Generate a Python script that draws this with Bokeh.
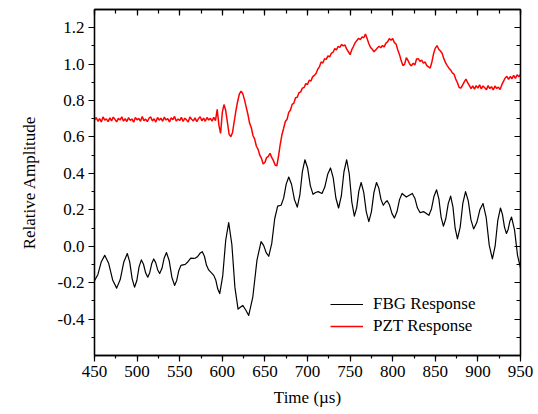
from bokeh.plotting import figure
from bokeh.models import (SingleIntervalTicker, PrintfTickFormatter, LinearAxis, Legend,
                          CustomLabelingPolicy)
from bokeh.embed import file_html
from bokeh.resources import INLINE

# ---------------- data ----------------
fbg_time = [450, 454, 458, 462, 466.7, 471.3, 476, 480.2, 484.3, 488.5, 491.3, 494.2, 497, 499.7, 502.3,
            505, 507.5, 510, 512.5, 514.8, 517.2, 519.5, 521.8, 524.2, 526.5, 529.2, 531.8, 534.5, 537.7,
            540.8, 544, 546.5, 549, 551.5, 554, 556.5, 559.7, 563, 565.8, 568.5, 571.2, 573.8, 576.5, 579,
            581.5, 584, 587, 590, 592.3, 594.7, 597, 600.5, 604, 607.5, 611.2, 614.8, 618.5, 621.2, 624,
            627.5, 631, 635.8, 640.7, 645.5, 648.5, 651.5, 654.5, 658, 661.5, 665, 669, 672, 675, 678,
            681.3, 684.7, 688, 691, 694, 697, 700.2, 703.3, 706.5, 709.5, 712.5, 717, 720.3, 723.7, 727,
            730.2, 733.3, 736.5, 739.7, 742.8, 746, 749, 752, 755, 757.7, 760.3, 763, 766, 769, 772, 775,
            778, 781, 783.7, 786.3, 789, 791.2, 793.5, 796.3, 799.2, 802, 805, 808, 811, 813.5, 816, 819.5,
            823, 826, 829, 832, 834.2, 836.5, 839.5, 842.5, 845.5, 848.5, 851.5, 854.2, 856.8, 859.5, 862.3,
            865.2, 868, 870.7, 873.3, 876, 879.2, 882.3, 885.5, 888.7, 891.8, 895, 898.7, 902.3, 906, 909.7,
            913.3, 917, 920.2, 923.3, 926.5, 928.8, 931.2, 933.5, 935.5, 937.5, 939.5, 943, 946.5, 950]
fbg_value = [-0.19, -0.155, -0.085, -0.05, -0.095, -0.185, -0.23, -0.183, -0.088, -0.04, -0.086, -0.179,
             -0.225, -0.188, -0.113, -0.075, -0.099, -0.146, -0.17, -0.145, -0.095, -0.07, -0.09, -0.13,
             -0.15, -0.121, -0.064, -0.035, -0.08, -0.17, -0.215, -0.188, -0.133, -0.105, -0.102, -0.10,
             -0.085, -0.065, -0.067, -0.065, -0.056, -0.039, -0.03, -0.055, -0.105, -0.13, -0.145, -0.16,
             -0.185, -0.235, -0.26, -0.163, 0.033, 0.13, 0.011, -0.226, -0.345, -0.335, -0.325, -0.35,
             -0.38, -0.279, -0.076, 0.025, 0.005, -0.035, -0.055, 0.014, 0.151, 0.22, 0.225, 0.264, 0.341,
             0.38, 0.339, 0.256, 0.215, 0.28, 0.41, 0.475, 0.428, 0.333, 0.285, 0.295, 0.30, 0.29, 0.325,
             0.395, 0.43, 0.375, 0.265, 0.21, 0.276, 0.409, 0.475, 0.398, 0.243, 0.165, 0.211, 0.304, 0.35,
             0.296, 0.189, 0.135, 0.189, 0.296, 0.35, 0.319, 0.256, 0.225, 0.24, 0.25, 0.226, 0.179, 0.155,
             0.189, 0.256, 0.29, 0.28, 0.27, 0.28, 0.29, 0.264, 0.211, 0.185, 0.187, 0.19, 0.18, 0.17,
             0.205, 0.275, 0.31, 0.26, 0.16, 0.11, 0.151, 0.234, 0.275, 0.216, 0.099, 0.04, 0.105, 0.235,
             0.30, 0.249, 0.146, 0.095, 0.13, 0.2, 0.235, 0.159, 0.006, -0.07, 0.0, 0.14, 0.21, 0.175,
             0.105, 0.07, 0.092, 0.137, 0.16, 0.09, -0.05, -0.12]

pzt_time = list(range(450, 951, 2))
pzt_value = [
    0.692, 0.707, 0.686, 0.701, 0.682, 0.710, 0.692, 0.699, 0.684, 0.705,
    0.688, 0.709, 0.697, 0.683, 0.702, 0.693, 0.711, 0.687, 0.700, 0.685,
    0.706, 0.691, 0.699, 0.681, 0.707, 0.694, 0.702, 0.686, 0.712, 0.690,
    0.698, 0.684, 0.703, 0.710, 0.688, 0.700, 0.682, 0.707, 0.692, 0.703,
    0.686, 0.709, 0.693, 0.701, 0.683, 0.705, 0.695, 0.713, 0.687, 0.699,
    0.690, 0.708, 0.685, 0.703, 0.694, 0.682, 0.710, 0.697, 0.688, 0.705,
    0.684, 0.700, 0.711, 0.689, 0.704, 0.686, 0.707, 0.693, 0.702, 0.687,
    0.708, 0.690, 0.752, 0.665, 0.620, 0.735, 0.778, 0.745, 0.680, 0.615,
    0.602, 0.625, 0.685, 0.745, 0.795, 0.835, 0.852, 0.838, 0.805, 0.765,
    0.725, 0.676, 0.652, 0.608, 0.588, 0.549, 0.532, 0.500, 0.482, 0.452,
    0.460, 0.487, 0.494, 0.510, 0.488, 0.470, 0.446, 0.442, 0.495, 0.560,
    0.612, 0.648, 0.685, 0.697, 0.735, 0.748, 0.779, 0.786, 0.815, 0.818,
    0.843, 0.848, 0.868, 0.872, 0.893, 0.888, 0.912, 0.907, 0.930, 0.938,
    0.948, 0.972, 0.985, 1.012, 1.006, 1.030, 1.026, 1.045, 1.040, 1.060,
    1.065, 1.085, 1.078, 1.098, 1.092, 1.108, 1.100, 1.105, 1.082, 1.068,
    1.052, 1.080, 1.098, 1.118, 1.130, 1.142, 1.135, 1.150, 1.145, 1.165,
    1.140, 1.112, 1.092, 1.082, 1.068, 1.078, 1.088, 1.098, 1.090, 1.102,
    1.095, 1.115, 1.122, 1.140, 1.132, 1.140, 1.118, 1.110, 1.078, 1.052,
    1.018, 0.992, 1.000, 1.035, 1.020, 1.000, 0.990, 1.005, 0.995, 1.028,
    1.030, 1.015, 1.022, 1.005, 1.012, 0.992, 0.985, 0.978, 1.012, 1.058,
    1.088, 1.102, 1.082, 1.072, 1.060, 1.030, 1.008, 0.992, 0.978, 0.968,
    0.952, 0.945, 0.918, 0.898, 0.872, 0.868, 0.885, 0.902, 0.918, 0.898,
    0.882, 0.866, 0.880, 0.863, 0.882, 0.868, 0.886, 0.864, 0.880, 0.870,
    0.860, 0.882, 0.866, 0.876, 0.858, 0.880, 0.866, 0.874, 0.861, 0.886,
    0.905, 0.924, 0.933, 0.916, 0.932, 0.920, 0.938, 0.922, 0.942, 0.930,
    0.945]

series_labels = ["FBG Response", "PZT Response"]
x_label = "Time (\u00b5s)"
y_label = "Relative Amplitude"

FONT = "Liberation Serif"

p = figure(width=538, height=414, x_range=(450, 950), y_range=(-0.6, 1.3),
           output_backend="svg", toolbar_location=None,
           min_border_left=94, min_border_right=18, min_border_top=9, min_border_bottom=59,
           x_axis_label=x_label, y_axis_label=y_label)
p.grid.visible = False
p.outline_line_color = "black"
p.outline_line_width = 1.3
p.background_fill_color = "white"
p.border_fill_color = "white"

r1 = p.line(fbg_time, fbg_value, line_color="black", line_width=1.2, line_join="round")
r2 = p.line(pzt_time, pzt_value, line_color="#ff0000", line_width=1.5)

no_labels = CustomLabelingPolicy(code="""
for (const i of indices) {
  if (i < 0) { yield i }
}
""")


def style_axis(ax, inward=False, labels=True):
    ax.axis_line_color = "black"
    ax.axis_line_width = 1.3
    ax.major_tick_line_color = "black"
    ax.minor_tick_line_color = "black"
    ax.major_tick_line_width = 1.2
    ax.minor_tick_line_width = 1.2
    if inward:
        ax.major_tick_in = 6
        ax.major_tick_out = 0
        ax.minor_tick_in = 4
        ax.minor_tick_out = 0
    else:
        ax.major_tick_in = 0
        ax.major_tick_out = 6
        ax.minor_tick_in = 0
        ax.minor_tick_out = 3
    ax.major_label_text_font = FONT
    ax.major_label_text_color = "black"
    ax.major_label_text_font_size = "17px"
    ax.axis_label_text_font = FONT
    ax.axis_label_text_font_style = "normal"
    ax.axis_label_text_font_size = "17px"
    ax.axis_label_text_color = "black"
    if not labels:
        ax.major_label_policy = no_labels
        ax.major_label_text_font_size = "0px"
        ax.major_label_standoff = 0


p.xaxis.ticker = SingleIntervalTicker(interval=50, num_minor_ticks=2)
p.yaxis.ticker = SingleIntervalTicker(interval=0.2, num_minor_ticks=2)
p.yaxis.formatter = PrintfTickFormatter(format="%.1f")
style_axis(p.xaxis[0])
style_axis(p.yaxis[0])
p.xaxis.major_label_standoff = 4
p.xaxis.axis_label_standoff = 8
p.yaxis.major_label_standoff = 4
p.yaxis.axis_label_standoff = 16

top = LinearAxis(ticker=SingleIntervalTicker(interval=50, num_minor_ticks=2))
style_axis(top, inward=True, labels=False)
p.add_layout(top, "above")
right = LinearAxis(ticker=SingleIntervalTicker(interval=0.2, num_minor_ticks=2))
style_axis(right, inward=True, labels=False)
p.add_layout(right, "right")

legend = Legend(items=[(series_labels[0], [r1]), (series_labels[1], [r2])],
                location=(236, 19), orientation="vertical")
legend.border_line_color = None
legend.background_fill_alpha = 0
legend.label_text_font = FONT
legend.label_text_font_size = "17px"
legend.label_text_color = "black"
legend.padding = 0
legend.margin = 0
legend.spacing = 2
legend.label_height = 20
legend.glyph_height = 20
legend.glyph_width = 33
legend.label_standoff = 10
p.add_layout(legend, "center")

open("out.html", "w").write(file_html(p, INLINE))
